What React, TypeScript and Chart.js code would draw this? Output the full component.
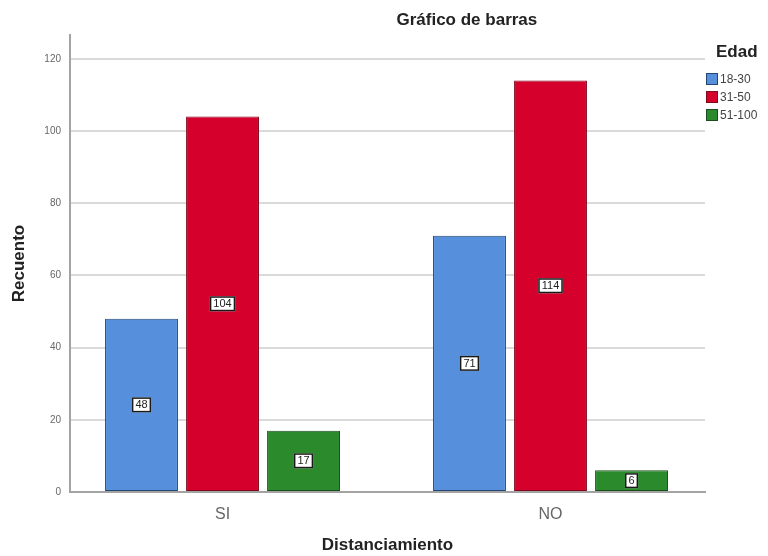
import React, { useEffect, useRef } from "react";
import { Chart, registerables } from "chart.js";

Chart.register(...registerables);

// Counts by distancing answer and age group
const categories = ["SI", "NO"];
const ageGroups = ["18-30", "31-50", "51-100"];
const counts1830 = [48, 71];
const counts3150 = [104, 114];
const counts51100 = [17, 6];
const yTickValues = [0, 20, 40, 60, 80, 100, 120];

const fills = ["#5690dd", "#d6002c", "#2a8a2c"];
const edges = ["#23466f", "#7e0a1c", "#1c4c1e"];

const FONT = "'Liberation Sans', Arial, sans-serif";

// White boxed value labels in the middle of each bar
const valueBoxes = {
  id: "valueBoxes",
  afterDatasetsDraw(chart: any) {
    const ctx = chart.ctx;
    ctx.save();
    ctx.font = `11px ${FONT}`;
    ctx.textAlign = "center";
    ctx.textBaseline = "middle";
    chart.data.datasets.forEach((ds: any, di: number) => {
      const meta = chart.getDatasetMeta(di);
      meta.data.forEach((bar: any, i: number) => {
        const v = ds.data[i].y;
        const yMid = (bar.y + bar.base) / 2;
        const w = ctx.measureText(String(v)).width + 7;
        const h = 15;
        ctx.fillStyle = "#ffffff";
        ctx.fillRect(bar.x - w / 2, yMid - h / 2, w, h);
        ctx.strokeStyle = "#1a1a1a";
        ctx.lineWidth = 1.5;
        ctx.strokeRect(bar.x - w / 2 + 0.75, yMid - h / 2 + 0.75, w - 1.5, h - 1.5);
        ctx.fillStyle = "#222";
        ctx.fillText(String(v), bar.x, yMid + 0.5);
      });
    });
    ctx.restore();
  },
};

// Chart heading and the "Edad" key on the right
const headingAndKey = {
  id: "headingAndKey",
  afterDraw(chart: any) {
    const ctx = chart.ctx;
    const area = chart.chartArea;
    ctx.save();
    ctx.fillStyle = "#222";
    ctx.font = `bold 17px ${FONT}`;
    ctx.textAlign = "center";
    ctx.textBaseline = "middle";
    ctx.fillText("Gráfico de barras", area.left + (area.right - area.left) * 0.625, 20);

    const kx = area.right + 1;
    ctx.textAlign = "left";
    ctx.font = `bold 17px ${FONT}`;
    ctx.fillText("Edad", kx + 10, 52);
    ctx.font = `12px ${FONT}`;
    chart.data.datasets.forEach((ds: any, i: number) => {
      const cy = 79 + i * 18;
      ctx.fillStyle = ds.backgroundColor;
      ctx.fillRect(kx, cy - 6, 12, 12);
      ctx.strokeStyle = ds.borderColor;
      ctx.lineWidth = 1;
      ctx.strokeRect(kx + 0.5, cy - 5.5, 11, 11);
      ctx.fillStyle = "#444";
      ctx.fillText(ds.label, kx + 14, cy + 0.5);
    });
    ctx.restore();
  },
};

export default function App() {
  const ref = useRef<HTMLCanvasElement | null>(null);

  useEffect(() => {
    if (!ref.current) return;
    const series = [counts1830, counts3150, counts51100];
    const chart = new Chart(ref.current, {
      type: "bar",
      data: {
        datasets: ageGroups.map((g, i) => ({
          label: g,
          data: series[i].map((v, ci) => ({ x: ci, y: v })),
          backgroundColor: fills[i],
          borderColor: edges[i],
          borderWidth: 1,
          borderSkipped: false,
          categoryPercentage: 0.741,
          barPercentage: 0.9,
        })),
      },
      options: {
        animation: false,
        responsive: false,
        maintainAspectRatio: false,
        layout: { padding: { top: 35, right: 63, left: 0, bottom: 0 } },
        plugins: {
          legend: { display: false },
          title: { display: false },
          tooltip: { enabled: false },
        },
        scales: {
          x: {
            type: "linear",
            offset: false,
            min: -0.465,
            max: 1.471,
            afterBuildTicks(scale: any) {
              scale.ticks = categories.map((_, i) => ({ value: i }));
            },
            grid: { display: false },
            border: { display: true, color: "#a3a3a3", width: 2 },
            ticks: {
              color: "#666",
              font: { family: FONT, size: 16 },
              padding: 5,
              callback: (v: any) => categories[Math.round(Number(v))] ?? "",
            },
            title: {
              display: true,
              text: "Distanciamiento",
              color: "#222",
              font: { family: FONT, size: 17, weight: "bold" },
              padding: { top: 4, bottom: 0 },
            },
            afterFit(scale: any) {
              scale.height = 64;
            },
          },
          y: {
            min: 0,
            max: 126.6,
            afterBuildTicks(scale: any) {
              scale.ticks = yTickValues.map((v) => ({ value: v }));
            },
            grid: { color: "#dadada", lineWidth: 2, drawTicks: false },
            border: { display: true, color: "#a3a3a3", width: 2 },
            ticks: {
              color: "#666",
              font: { family: FONT, size: 10 },
              padding: 9,
            },
            title: {
              display: true,
              text: "Recuento",
              color: "#222",
              font: { family: FONT, size: 17, weight: "bold" },
              padding: { top: 9, bottom: 0 },
            },
            afterFit(scale: any) {
              scale.width = 70;
            },
          },
        },
      },
      plugins: [valueBoxes, headingAndKey],
    });
    return () => chart.destroy();
  }, []);

  return (
    <div style={{ position: "fixed", left: 0, top: 0, width: 768, height: 556, background: "#fff" }}>
      <canvas ref={ref} width={768} height={556} style={{ width: 768, height: 556, display: "block" }} />
    </div>
  );
}
